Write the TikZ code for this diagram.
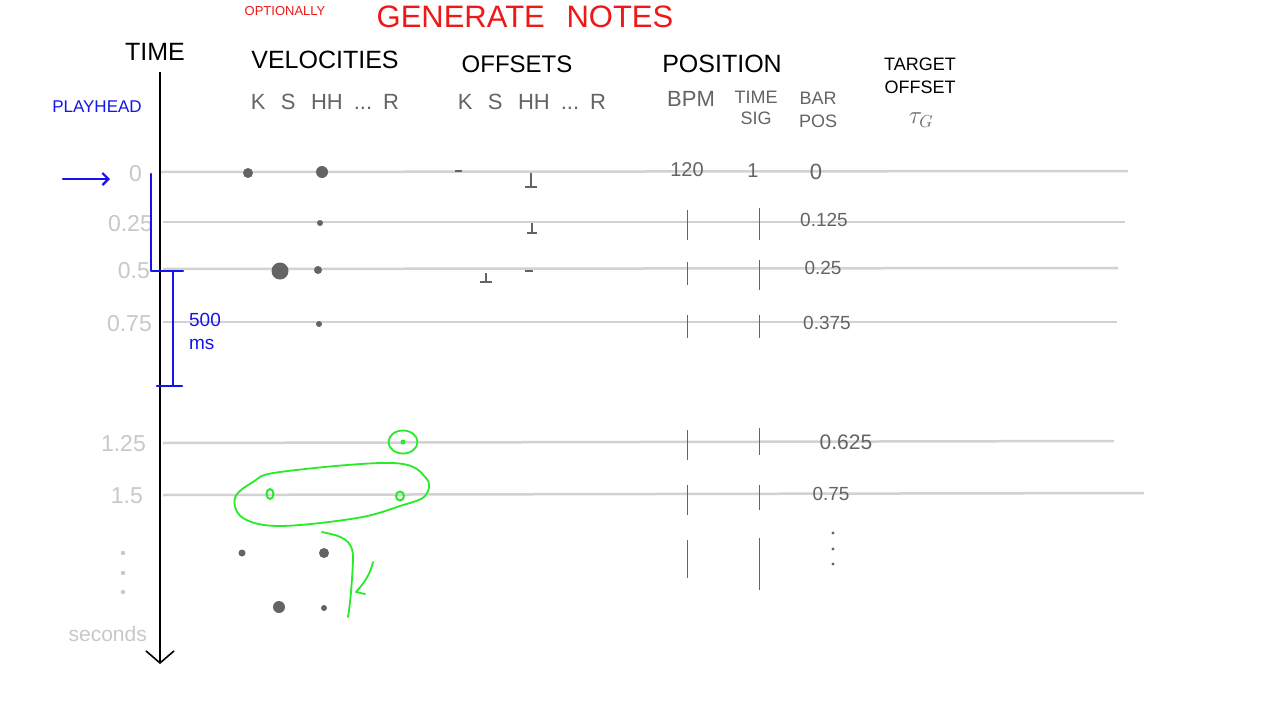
\documentclass[tikz,border=0pt]{standalone}
\usepackage{fontspec}
\setmainfont{Liberation Sans}
\usetikzlibrary{arrows.meta,shapes.geometric}

\definecolor{inkred}{RGB}{238,24,24}
\definecolor{inkblue}{RGB}{20,20,235}
\definecolor{inkgreen}{RGB}{40,235,40}
\definecolor{pencil}{RGB}{100,100,100}
\definecolor{faint}{RGB}{200,200,200}
\definecolor{rule}{RGB}{210,210,210}

\tikzset{
  head/.style={font=\fontsize{25}{26}\selectfont, text=black, inner sep=0pt},
  subhead/.style={font=\fontsize{22}{24}\selectfont, text=pencil, inner sep=0pt, align=center},
  timelbl/.style={font=\fontsize{23}{25}\selectfont, text=faint, inner sep=0pt, anchor=east},
  barlbl/.style={font=\fontsize{19}{21}\selectfont, text=pencil, inner sep=0pt},
  rowline/.style={draw=rule, line width=2.5pt},
  note/.style={circle, fill=pencil, inner sep=0pt, minimum size=#1},
  beat/.style={draw=pencil, line width=0.8pt},
  blueink/.style={draw=inkblue, line width=2.2pt, line cap=round, line join=round},
  greenink/.style={draw=inkgreen, line width=1.8pt, line cap=round, line join=round},
}

\begin{document}
\begin{tikzpicture}[x=1pt, y=-1pt]
\useasboundingbox[fill=white] (0,0) rectangle (1280,720);

% titles
\node[font=\fontsize{31}{32}\selectfont, text=inkred, inner sep=0pt] (title) at (525,17) {GENERATE\hspace{0.7em}NOTES};
\node[font=\fontsize{13}{14}\selectfont, text=inkred, inner sep=0pt] (optional) at (285,11) {OPTIONALLY};

% column headers
\node[head] (time) at (155,52) {TIME};
\node[head] (velo) at (325,60) {VELOCITIES};
\node[head, font=\fontsize{24}{25}\selectfont] (offs) at (517,64) {OFFSETS};
\node[head] (posi) at (722,64) {POSITION};
\node[head, font=\fontsize{18}{23}\selectfont, align=center] (target) at (920,76) {TARGET\\OFFSET};

\node[subhead] (velosub) at (325,102) {K\hspace{.7em}S\hspace{.7em}HH\hspace{.5em}...\hspace{.5em}R};
\node[subhead] (offssub) at (532,102) {K\hspace{.7em}S\hspace{.7em}HH\hspace{.5em}...\hspace{.5em}R};
\node[subhead] (bpm) at (691,99) {BPM};
\node[subhead, font=\fontsize{18}{21}\selectfont] (timesig) at (756,108) {TIME\\SIG};
\node[subhead, font=\fontsize{18}{23}\selectfont] (barpos) at (818,110) {BAR\\POS};
\node[subhead, font=\fontsize{24}{26}\selectfont] (tau) at (921,120) {$\tau_G$};

% playhead
\node[font=\fontsize{17}{18}\selectfont, text=inkblue, inner sep=0pt] (playhead) at (97,107) {PLAYHEAD};
\coordinate (pstart) at (63,179);
\draw[blueink, -{Straight Barb[length=6pt, width=12pt]}] (pstart) -- (110,179);

% time axis
\coordinate (axtop) at (160,72);
\coordinate (axbot) at (160,664);
\draw[line width=1.6pt, -{Straight Barb[length=12pt, width=28pt]}] (axtop) -- (axbot);

% rows
\draw[rowline] (161,172) -- (1128,171);
\draw[rowline] (163,222) -- (1125,222);
\draw[rowline] (163,269) -- (1118,268);
\draw[rowline] (163,322) -- (1117,322);
\draw[rowline] (163,443) -- (1114,441);
\draw[rowline] (163,495) -- (1144,493);

% time labels
\node[timelbl] (t0) at (142,174) {0};
\node[timelbl] (t1) at (153,224) {0.25};
\node[timelbl] (t2) at (150,271) {0.5};
\node[timelbl] (t3) at (152,324) {0.75};
\node[timelbl] (t5) at (146,444) {1.25};
\node[timelbl] (t6) at (143,496) {1.5};
\foreach \y in {553,573,592}
  \fill[faint] (123,\y) circle (2.2pt);
\node[timelbl, font=\fontsize{21}{22}\selectfont] (secs) at (147,634) {seconds};

% 500 ms brackets
\draw[blueink] (151,174) -- (151,271) -- (183,271);
\draw[blueink] (173,271) -- (173,386);
\draw[blueink] (157,386) -- (182,386);
\node[font=\fontsize{19}{23}\selectfont, text=inkblue, inner sep=0pt, align=left] (ms) at (205,331) {500\\ms};

% velocities
\node[note=10pt] (vk0) at (248,173) {};
\node[note=12pt] (vh0) at (322,172) {};
\node[note=6pt] (vh1) at (320,223) {};
\node[note=17pt] (vs2) at (280,271) {};
\node[note=8pt] (vh2) at (318,270) {};
\node[note=6pt] (vh3) at (319,324) {};
\node[note=7pt] (vk7) at (242,553) {};
\node[note=10pt] (vh7) at (324,553) {};
\node[note=12pt] (vs8) at (279,607) {};
\node[note=6pt] (vh8) at (324,608) {};

% offsets
\draw[pencil, line width=2pt] (455,171) -- (462,171);
\draw[pencil, line width=2pt] (531,173) -- (531,186) (525,187) -- (537,187);
\draw[pencil, line width=2pt] (532,223) -- (532,232) (527,233) -- (537,233);
\draw[pencil, line width=2pt] (486,273) -- (486,281) (480,282) -- (492,282);
\draw[pencil, line width=2pt] (525,271) -- (533,271);

% position
\node[barlbl, font=\fontsize{20}{22}\selectfont] (bpm0) at (687,170) {120};
\node[barlbl, font=\fontsize{20}{22}\selectfont] (sig0) at (753,171) {1};
\node[barlbl, font=\fontsize{22}{23}\selectfont] (bar0) at (816,172) {0};
\foreach \ya/\yb in {210/240, 262/285, 315/338, 430/460, 485/515, 540/578}
  \draw[beat] (687,\ya) -- (687,\yb);
\foreach \ya/\yb in {208/240, 260/290, 315/338, 428/455, 485/510, 538/590}
  \draw[beat] (759,\ya) -- (759,\yb);
\node[barlbl] (bar1) at (824,220) {0.125};
\node[barlbl] (bar2) at (823,268) {0.25};
\node[barlbl] (bar3) at (827,323) {0.375};
\node[barlbl, font=\fontsize{21}{22}\selectfont] (bar5) at (846,442) {0.625};
\node[barlbl] (bar6) at (831,494) {0.75};
\foreach \y in {533,549,564}
  \fill[pencil] (833,\y) circle (1.6pt);

% generated notes
\node[draw=inkgreen, line width=1.8pt, ellipse, minimum width=29pt, minimum height=23pt, inner sep=0pt] (ring) at (403,442) {};
\fill[inkgreen] (ring.center) circle (2.5pt);
\node[draw=inkgreen, line width=2pt, ellipse, minimum width=7pt, minimum height=10pt, inner sep=0pt] (gk) at (270,494) {};
\node[draw=inkgreen, line width=2pt, ellipse, minimum width=8pt, minimum height=9pt, inner sep=0pt] (gh) at (400,496) {};
\draw[greenink] plot[smooth cycle, tension=0.6] coordinates {(235,498) (253,482) (280,472) (393,463) (426,478) (425,496) (400,506) (357,518) (280,526) (243,518)};
\coordinate (swoopstart) at (322,532);
\coordinate (swoopend) at (348,617);
\draw[greenink] (swoopstart) .. controls (340,536) and (354,538) .. (353,560) .. controls (352,585) and (350,605) .. (swoopend);
\draw[greenink] (373,562) .. controls (370,575) and (364,583) .. (356,592) -- (365,594);

\end{tikzpicture}
\end{document}
